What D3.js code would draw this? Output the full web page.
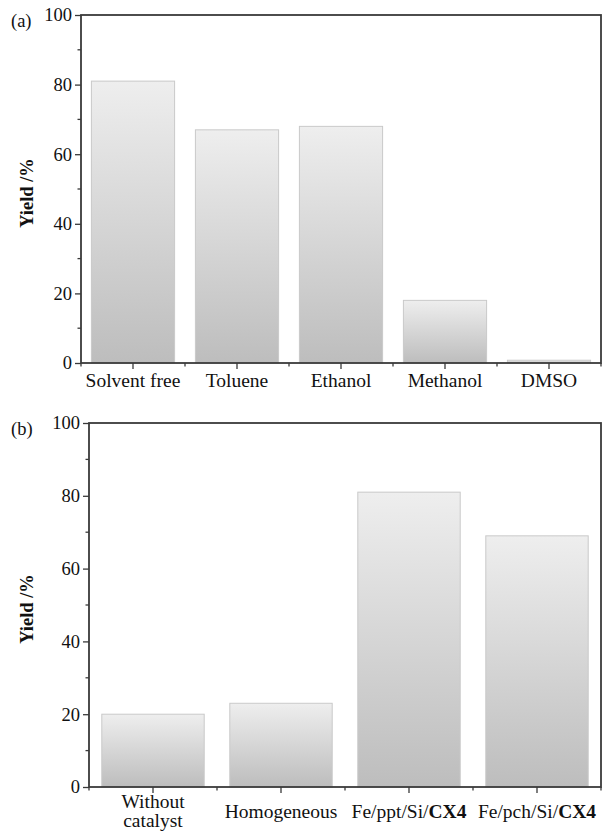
<!DOCTYPE html>
<html>
<head>
<meta charset="utf-8">
<script src="https://cdn.jsdelivr.net/npm/d3@7"></script>
<style>
  body { margin: 0; background: #fff; }
  svg { display: block; font-family: "Liberation Serif", "Times New Roman", serif; }
</style>
</head>
<body>
<script>
// panel (a): solvent screening
const solventNames = ['Solvent free', 'Toluene', 'Ethanol', 'Methanol', 'DMSO'];
const solventYield = [81, 67, 68, 18, 0.8];

// panel (b): catalyst screening
const catalystNames = ['Without catalyst', 'Homogeneous', 'Fe/ppt/Si/CX4', 'Fe/pch/Si/CX4'];
const catalystYield = [20, 23, 81, 69];

const yTicks = [0, 20, 40, 60, 80, 100];
const yMinor = [10, 30, 50, 70, 90];

const width = 613, height = 834;
const axisColor = '#3a3a3a';

const svg = d3.select('body').append('svg')
  .attr('width', width)
  .attr('height', height);

// shared bar gradient (per-bar bounding box)
const grad = svg.append('defs').append('linearGradient')
  .attr('id', 'barGrad')
  .attr('x1', 0).attr('y1', 0).attr('x2', 0).attr('y2', 1);
grad.append('stop').attr('offset', '0%').attr('stop-color', '#eeeeee');
grad.append('stop').attr('offset', '100%').attr('stop-color', '#bdbdbd');

function drawPanel(opts) {
  const { names, values, left, right, top, bottom, tag, labelY } = opts;
  const g = svg.append('g');

  const x = d3.scaleBand().domain(names).range([left, right]).paddingInner(0.2).paddingOuter(0.1);
  const y = d3.scaleLinear().domain([0, 100]).range([bottom, top]);

  // bars
  g.selectAll('rect.bar')
    .data(values)
    .enter()
    .append('rect')
    .attr('class', 'bar')
    .attr('x', (d, i) => x(names[i]))
    .attr('y', d => y(d))
    .attr('width', x.bandwidth())
    .attr('height', d => y(0) - y(d))
    .attr('fill', 'url(#barGrad)')
    .attr('stroke', '#c9c9c9')
    .attr('stroke-width', 1);

  // y axis major ticks
  const yAxis = d3.axisLeft(y).tickValues(yTicks).tickSize(6).tickPadding(3).tickSizeOuter(0);
  const ya = g.append('g').attr('transform', `translate(${left},0)`).call(yAxis);
  ya.select('.domain').remove();
  ya.selectAll('line').attr('stroke', axisColor).attr('stroke-width', 1.3);
  ya.selectAll('text')
    .attr('fill', '#111')
    .style('font-size', '18.5px')
    .style('font-family', '"Liberation Serif", serif');

  // y minor ticks
  g.selectAll('line.yminor')
    .data(yMinor)
    .enter()
    .append('line')
    .attr('x1', left - 3.5).attr('x2', left)
    .attr('y1', d => y(d)).attr('y2', d => y(d))
    .attr('stroke', axisColor).attr('stroke-width', 1.3);

  // x ticks at centers
  const xa = g.append('g').attr('transform', `translate(0,${bottom})`)
    .call(d3.axisBottom(x).tickSize(6).tickFormat(''));
  xa.select('.domain').remove();
  xa.selectAll('line').attr('stroke', axisColor).attr('stroke-width', 1.3);

  // x minor ticks at category boundaries
  const step = x.step();
  const bounds = d3.range(names.length + 1).map(i => left + i * step);
  g.selectAll('line.xminor')
    .data(bounds)
    .enter()
    .append('line')
    .attr('x1', d => d).attr('x2', d => d)
    .attr('y1', bottom).attr('y2', bottom + 3.5)
    .attr('stroke', axisColor).attr('stroke-width', 1.3);

  // frame
  g.append('rect')
    .attr('x', left).attr('y', top)
    .attr('width', right - left).attr('height', bottom - top)
    .attr('fill', 'none')
    .attr('stroke', axisColor)
    .attr('stroke-width', 1.8);

  // category labels
  const lab = g.selectAll('text.cat')
    .data(names)
    .enter()
    .append('text')
    .attr('class', 'cat')
    .attr('text-anchor', 'middle')
    .attr('fill', '#111')
    .style('font-size', '19.5px')
    .attr('x', d => x(d) + x.bandwidth() / 2)
    .attr('y', labelY);

  lab.each(function (d) {
    const t = d3.select(this);
    if (d === 'Without catalyst') {
      t.append('tspan').attr('x', x(d) + x.bandwidth() / 2).attr('dy', -10).text('Without');
      t.append('tspan').attr('x', x(d) + x.bandwidth() / 2).attr('dy', 19).text('catalyst');
    } else if (d.endsWith('/CX4')) {
      t.append('tspan').text(d.slice(0, -3));
      t.append('tspan').style('font-weight', 'bold').text('CX4');
    } else {
      t.text(d);
    }
  });

  // y title
  svg.append('text')
    .attr('transform', `translate(33,${(top + bottom) / 2 + 4}) rotate(-90)`)
    .attr('text-anchor', 'middle')
    .attr('fill', '#111')
    .style('font-size', '18.5px')
    .style('font-weight', 'bold')
    .text('Yield /%');

  // panel tag
  svg.append('text')
    .attr('x', 11)
    .attr('y', top + 12)
    .attr('fill', '#111')
    .style('font-size', '18.5px')
    .text(tag);
}

drawPanel({ names: solventNames, values: solventYield, left: 81, right: 601, top: 15, bottom: 363, tag: '(a)', labelY: 387 });
drawPanel({ names: catalystNames, values: catalystYield, left: 89, right: 601, top: 423, bottom: 787, tag: '(b)', labelY: 818 });
</script>
</body>
</html>
